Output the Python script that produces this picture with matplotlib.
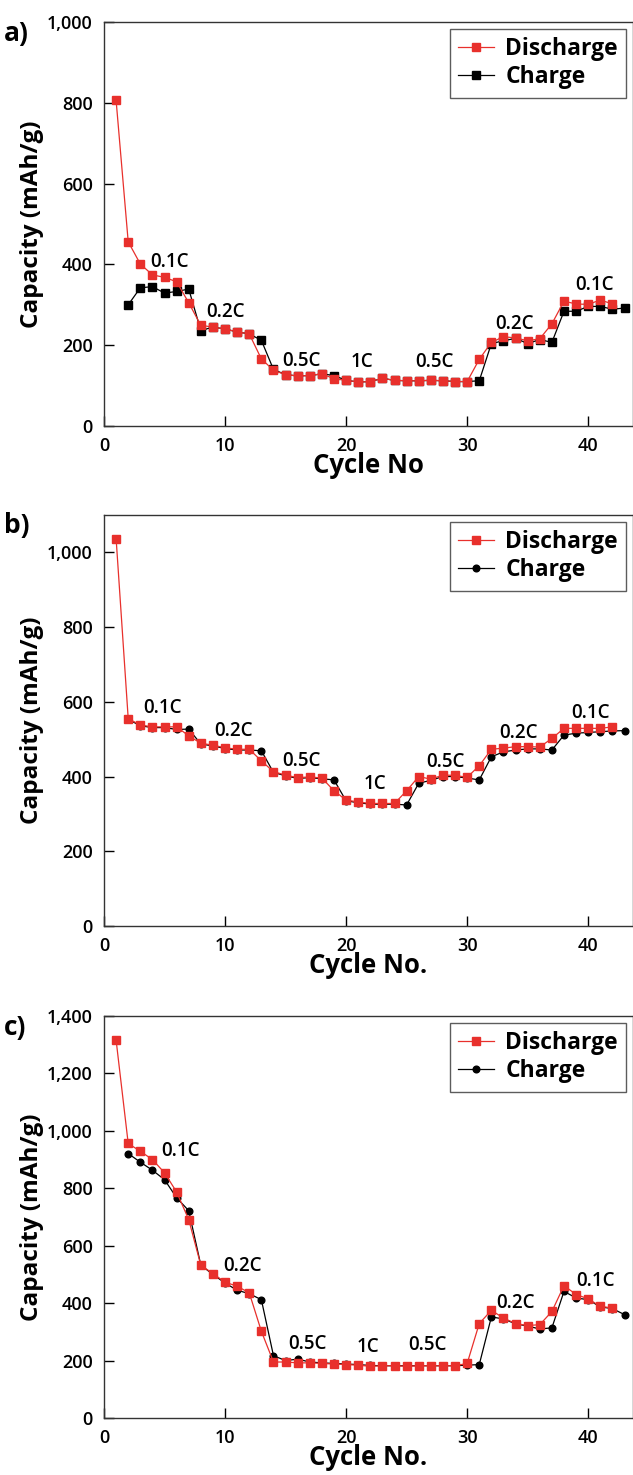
import matplotlib
matplotlib.use("Agg")
from matplotlib import pyplot as plt
from matplotlib.ticker import FuncFormatter

plt.rcParams['font.family'] = ['Open Sans', 'DejaVu Sans']

red = '#e8302c'

# cycle numbers
cyc_dis = list(range(1, 43))
cyc_chg = list(range(2, 44))

# panel a (10 values per row)
a_dis = [806, 456, 401, 374, 368, 357, 305, 249, 245, 240,
         233, 228, 166, 138, 127, 124, 125, 129, 117, 113,
         109, 110, 118, 113, 112, 112, 113, 112, 110, 110,
         165, 207, 221, 218, 211, 216, 253, 309, 302, 301,
         312, 302]
a_chg = [300, 342, 345, 329, 333, 339, 236, 245, 240, 233,
         228, 212, 140, 127, 124, 125, 129, 125, 113, 109,
         110, 118, 113, 112, 112, 113, 112, 110, 110, 112,
         204, 211, 217, 204, 214, 207, 284, 284, 296, 296,
         289, 292]

# panel b
b_dis = [1037, 555, 538, 533, 533, 533, 509, 489, 484, 477,
         473, 473, 442, 413, 404, 397, 399, 396, 362, 337,
         332, 328, 328, 328, 362, 400, 393, 404, 403, 398,
         429, 473, 476, 480, 480, 479, 502, 529, 529, 529,
         529, 533]
b_chg = [553, 536, 531, 531, 526, 527, 487, 482, 475, 471,
         471, 469, 411, 402, 395, 397, 394, 391, 335, 330,
         326, 326, 326, 324, 382, 390, 400, 400, 396, 391,
         453, 466, 471, 474, 474, 471, 511, 516, 518, 520,
         522, 523]

# panel c
c_dis = [1316, 956, 929, 900, 854, 787, 691, 532, 503, 473,
         459, 436, 302, 195, 195, 192, 192, 190, 188, 186,
         184, 180, 182, 182, 180, 182, 182, 182, 182, 190,
         329, 375, 348, 329, 322, 325, 371, 461, 430, 415,
         389, 383]
c_chg = [921, 891, 863, 830, 767, 722, 532, 500, 470, 445,
         433, 412, 217, 200, 205, 195, 192, 190, 188, 186,
         183, 182, 182, 182, 182, 182, 182, 182, 184, 186,
         352, 345, 328, 320, 310, 314, 441, 418, 412, 387,
         381, 360]

rate_labels = ['0.1C', '0.2C', '0.5C', '1C', '0.5C', '0.2C', '0.1C']
a_lab_x = [5.4, 10.0, 16.3, 21.3, 27.3, 33.9, 40.5]
a_lab_y = [405, 282, 162, 158, 158, 253, 350]
b_lab_x = [4.8, 10.7, 16.3, 22.4, 28.2, 34.2, 40.2]
b_lab_y = [583, 523, 442, 380, 440, 517, 569]
c_lab_x = [6.3, 11.4, 16.8, 21.8, 26.7, 34.0, 40.6]
c_lab_y = [931, 531, 259, 249, 253, 400, 476]

panels = [
    ('a)', a_dis, a_chg, 's', 1000, 200, 'Cycle No', a_lab_x, a_lab_y),
    ('b)', b_dis, b_chg, 'o', 1100, 200, 'Cycle No.', b_lab_x, b_lab_y),
    ('c)', c_dis, c_chg, 'o', 1400, 200, 'Cycle No.', c_lab_x, c_lab_y),
]
# axes boxes in pixels: top, bottom
boxes = [(22, 426), (515, 926), (1016, 1418)]

W, H = 633, 1475
fig = plt.figure(figsize=(W / 100, H / 100), dpi=100)

for (tag, dis, chg, cm, ymax, ystep, xlab, lx, ly), (top, bot) in zip(panels, boxes):
    ax = fig.add_axes([104 / W, 1 - bot / H, 529 / W, (bot - top) / H])
    if cm == 's':
        ax.plot(cyc_chg, chg, color='black', lw=0.9, marker='s', ms=6.3, label='Charge')
    else:
        ax.plot(cyc_chg, chg, color='black', lw=0.9, marker='o', ms=4.8, label='Charge')
    ax.plot(cyc_dis, dis, color=red, lw=0.9, marker='s', ms=6.3, label='Discharge')

    for t, x, y in zip(rate_labels, lx, ly):
        ax.text(x, y, t, ha='center', va='center', fontsize=13.5, fontweight='semibold')

    ax.set_xlim(0, 43.7)
    ax.set_ylim(0, ymax)
    ax.set_xticks(range(0, 50, 10))
    ax.set_yticks(range(0, ymax + 1, ystep))
    ax.yaxis.set_major_formatter(FuncFormatter(lambda v, p: f'{int(v):,}'))
    ax.tick_params(direction='in', length=7, width=1, labelsize=13, pad=8)
    ax.tick_params(axis='x', pad=8)
    for lbl in ax.get_xticklabels() + ax.get_yticklabels():
        lbl.set_fontweight('semibold')
    for s in ax.spines.values():
        s.set_linewidth(1.0)
        s.set_color('#333333')

    ax.set_xlabel(xlab, fontsize=18.5, fontweight='bold', labelpad=-2)
    ax.set_ylabel('Capacity (mAh/g)', fontsize=17.5, fontweight='bold', labelpad=2)

    h, l = ax.get_legend_handles_labels()
    leg = ax.legend(h[::-1], l[::-1], loc='upper right',
                    prop={'weight': 'bold', 'size': 16.5}, frameon=True, fancybox=False,
                    edgecolor='#333333', handlelength=1.55, handletextpad=0.5,
                    borderaxespad=0.3, labelspacing=0.2, borderpad=0.35)
    leg.get_frame().set_linewidth(1.0)

    fig.text(4 / W, 1 - (top + 11) / H, tag, fontsize=19, fontweight='bold', va='center', ha='left')

fig.savefig('out.png', dpi=100)
